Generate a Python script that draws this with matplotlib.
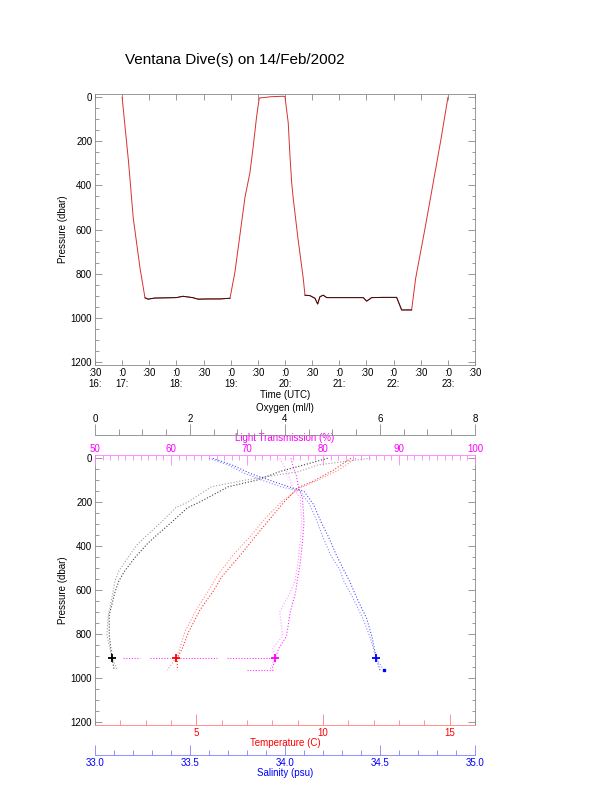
import matplotlib
matplotlib.use("Agg")
import matplotlib.pyplot as plt
from matplotlib.ticker import MultipleLocator, NullLocator
import numpy as np

plt.rcParams["font.family"] = ["Liberation Sans", "DejaVu Sans"]

# top panel: pressure record against time (decimal hours, UTC)
dive_time = [17.0, 17.117, 17.205, 17.329, 17.421, 17.48, 17.6, 17.8, 18.0, 18.12,
             18.3, 18.4, 18.6, 18.8, 18.987, 19.079, 19.263, 19.355, 19.416, 19.478,
             19.526, 19.75, 19.968, 20.0, 20.06, 20.092, 20.123, 20.153, 20.24, 20.337,
             20.368, 20.46, 20.552, 20.602, 20.644, 20.705, 20.768, 21.0, 21.442, 21.504,
             21.597, 21.8, 22.057, 22.149, 22.333, 22.407, 22.578, 22.726, 22.873, 23.002]
dive_pres = [0, 290, 548, 774, 910, 916, 911, 910, 909, 903,
             909, 916, 915, 915, 912, 792, 454, 341, 221, 86,
             3, -3, -5, -3, 116, 266, 386, 461, 642, 822,
             898, 900, 912, 938, 905, 898, 909, 909, 909, 925,
             909, 908, 908, 965, 965, 822, 597, 394, 191, 0]

time_ticks = [16.5, 17.0, 17.5, 18.0, 18.5, 19.0, 19.5, 20.0, 20.5, 21.0, 21.5, 22.0, 22.5, 23.0, 23.5]
time_labels = [":30\n16:", ":0\n17:", ":30", ":0\n18:", ":30", ":0\n19:", ":30", ":0\n20:",
               ":30", ":0\n21:", ":30", ":0\n22:", ":30", ":0\n23:", ":30"]

# bottom panel: profiles, two casts each
oxy_p = [0, 30, 60, 100, 130, 200, 225, 290, 350, 390, 450, 515, 560, 610, 715, 805, 910, 960]
oxy_a = [5.8, 4.7, 4.3, 3.15, 2.45, 1.95, 1.7, 1.4, 1.1, 0.9, 0.7, 0.5, 0.42, 0.38, 0.28, 0.25, 0.36, 0.46]
oxy_b = [4.9, 4.4, 3.9, 3.4, 2.8, 2.2, 1.95, 1.62, 1.3, 1.1, 0.85, 0.62, 0.5, 0.42, 0.3, 0.3, 0.36, 0.4]

temp_p = [0, 55, 105, 135, 195, 270, 360, 440, 540, 600, 690, 790, 865, 910, 965]
temp_a = [11.3, 10.6, 9.7, 9.1, 8.4, 7.75, 7.1, 6.45, 5.8, 5.5, 5.0, 4.55, 4.35, 4.2, 3.85]
temp_b = [11.1, 10.4, 9.6, 9.0, 8.5, 7.95, 7.3, 6.75, 6.0, 5.7, 5.15, 4.7, 4.45, 4.25, 4.25]

light_p = [0, 30, 80, 135, 180, 290, 380, 480, 560, 610, 700, 810, 865, 910, 965]
light_a = [74.3, 74.8, 75.5, 76.0, 77.0, 77.2, 77.0, 76.7, 76.3, 75.7, 74.3, 74.7, 73.4, 73.7, 73.0]
light_b = [75.8, 76.0, 76.5, 76.8, 77.3, 77.5, 77.3, 77.0, 76.6, 76.4, 75.7, 75.2, 74.2, 73.7, 73.3]
# stretches of near-bottom readings (start, end) at 909 and 965 dbar
light_bottom = [(53.7, 55.9), (57.2, 59.9), (61.2, 66.0), (67.4, 74.0)]
light_bottom2 = [(70.0, 73.4)]

sal_p = [0, 30, 70, 100, 130, 150, 210, 290, 360, 440, 510, 560, 640, 730, 820, 910, 965]
sal_a = [33.6, 33.7, 33.79, 33.88, 33.98, 34.08, 34.13, 34.17, 34.2, 34.24, 34.29, 34.31,
         34.36, 34.41, 34.45, 34.48, 34.52]
sal_b = [33.62, 33.72, 33.82, 33.92, 34.02, 34.1, 34.15, 34.19, 34.23, 34.27, 34.31, 34.34,
         34.38, 34.43, 34.46, 34.48, 34.5]

bottom_p = 909
oxy_bot, temp_bot, light_bot, sal_bot = 0.36, 4.2, 73.7, 34.48

GRAY = "#888888"
fs = 7
PX = 0.72  # pixels -> points at 100 dpi

fig = plt.figure(figsize=(6.12, 7.85), dpi=100)
fig.text(0.384, 0.9236, "Ventana Dive(s) on 14/Feb/2002", ha="center", va="center", fontsize=11)

# ---- top panel
ax1 = fig.add_axes([0.1552, 0.535, 0.6209, 0.3452])
ax1.plot(dive_time, dive_pres, color="#d83030", lw=0.7)
pres = np.array(dive_pres, dtype=float)
ax1.plot(dive_time, np.where(pres > 880, pres, np.nan), color="#301010", lw=0.7)
ax1.set_xlim(16.5, 23.5)
ax1.set_ylim(1215, -15)
ax1.set_xticks(time_ticks)
ax1.set_xticklabels(time_labels, linespacing=1.1)
ax1.xaxis.set_minor_locator(NullLocator())
ax1.set_yticks(range(0, 1201, 200))
ax1.yaxis.set_minor_locator(MultipleLocator(50))
ax1.tick_params(which="both", direction="in", top=True, right=True, colors=GRAY,
                labelcolor="black", labelsize=fs, width=0.6)
ax1.tick_params(axis="y", which="major", length=7 * PX, pad=2)
ax1.tick_params(axis="y", which="minor", length=3.5 * PX)
ax1.tick_params(axis="x", length=5.5 * PX, pad=2.5)
for s in ax1.spines.values():
    s.set_color(GRAY)
    s.set_linewidth(0.6)
ax1.set_xlabel("Time (UTC)", fontsize=fs, labelpad=0.5)
ax1.set_ylabel("Pressure (dbar)", fontsize=fs, labelpad=2)

# ---- bottom panel
ax2 = fig.add_axes([0.1552, 0.0764, 0.6209, 0.344])
ax_l = ax2.twiny()
ax_o = ax2.twiny()
ax_s = ax2.twiny()

# temperature on the main axes
ax2.plot(temp_a, temp_p, color="#ff7070", lw=0.8, ls=":", alpha=0.8)
ax2.plot(temp_b, temp_p, color="#ff0000", lw=0.8, ls=":", alpha=0.8)
ax2.plot([temp_bot], [bottom_p], marker="+", color="red", ms=6, mew=1.3)
ax2.set_xlim(1, 16)
ax2.set_xticks([5, 10, 15])
ax2.xaxis.set_minor_locator(MultipleLocator(1))
ax2.set_ylim(1215, -15)
ax2.set_yticks(range(0, 1201, 200))
ax2.yaxis.set_minor_locator(MultipleLocator(50))
ax2.tick_params(which="both", direction="in", right=True, top=False, colors=GRAY,
                labelcolor="black", labelsize=fs, width=0.6)
ax2.tick_params(axis="y", which="major", length=7 * PX, pad=2)
ax2.tick_params(axis="y", which="minor", length=3.5 * PX)
ax2.tick_params(axis="x", which="both", colors="#ff8080", labelcolor="red", pad=2)
ax2.tick_params(axis="x", which="major", length=11 * PX)
ax2.tick_params(axis="x", which="minor", length=5 * PX)
for k, s in ax2.spines.items():
    s.set_color(GRAY)
    s.set_linewidth(0.6)
ax2.spines["bottom"].set_color("#ff8080")
ax2.spines["top"].set_visible(False)
ax2.set_xlabel("Temperature (C)", fontsize=fs, color="red", labelpad=0.5)
ax2.set_ylabel("Pressure (dbar)", fontsize=fs, labelpad=2)

# light transmission, top spine
ax_l.plot(light_a, light_p, color="#ff90ff", lw=0.8, ls=":", alpha=0.9)
ax_l.plot(light_b, light_p, color="#ff00ff", lw=0.8, ls=":", alpha=0.8)
for lo, hi in light_bottom:
    ax_l.plot([lo, hi], [bottom_p, bottom_p], color="#ff00ff", lw=0.8, ls=(0, (1, 1.5)), alpha=0.8)
for lo, hi in light_bottom2:
    ax_l.plot([lo, hi], [965, 965], color="#ff00ff", lw=0.8, ls=(0, (1, 1.5)), alpha=0.8)
ax_l.plot([light_bot], [bottom_p], marker="+", color="#ff00ff", ms=6, mew=1.3)
ax_l.set_xlim(50, 100)
ax_l.set_xticks(range(50, 101, 10))
ax_l.xaxis.set_minor_locator(MultipleLocator(1))
ax_l.tick_params(axis="x", which="both", direction="in", colors="#ff80ff",
                 labelcolor="#ff00ff", labelsize=fs, width=0.6, pad=1)
ax_l.tick_params(axis="x", which="major", length=10 * PX)
ax_l.tick_params(axis="x", which="minor", length=5 * PX)
for k, s in ax_l.spines.items():
    s.set_visible(k == "top")
ax_l.spines["top"].set_color("#ff80ff")
ax_l.spines["top"].set_linewidth(0.6)
ax_l.set_xlabel("Light Transmission (%)", fontsize=fs, color="#ff00ff", labelpad=2)

# oxygen, detached axis above
ax_o.plot(oxy_a, oxy_p, color="#a0a0a0", lw=0.8, ls=":")
ax_o.plot(oxy_b, oxy_p, color="#404040", lw=0.8, ls=":")
ax_o.plot([oxy_bot], [bottom_p], marker="+", color="black", ms=6, mew=1.3)
ax_o.set_xlim(0, 8)
ax_o.set_xticks(range(0, 9, 2))
ax_o.xaxis.set_minor_locator(MultipleLocator(0.5))
ax_o.spines["top"].set_position(("axes", 1.074))
for k, s in ax_o.spines.items():
    s.set_visible(k == "top")
ax_o.spines["top"].set_color(GRAY)
ax_o.spines["top"].set_linewidth(0.6)
ax_o.tick_params(axis="x", which="both", direction="out", colors=GRAY,
                 labelcolor="black", labelsize=fs, width=0.6, pad=0)
ax_o.tick_params(axis="x", which="major", length=11.5 * PX)
ax_o.tick_params(axis="x", which="minor", length=6 * PX)
ax_o.set_xlabel("Oxygen (ml/l)", fontsize=fs, labelpad=1.5)

# salinity, detached axis below
ax_s.plot(sal_a, sal_p, color="#8080ff", lw=0.8, ls=":", alpha=0.9)
ax_s.plot(sal_b, sal_p, color="#0000ff", lw=0.8, ls=":", alpha=0.7)
ax_s.plot([sal_bot], [bottom_p], marker="+", color="blue", ms=6, mew=1.3)
ax_s.plot([34.52], [965], marker="s", ms=1.5, color="blue")
ax_s.set_xlim(33.0, 35.0)
ax_s.set_xticks([33.0, 33.5, 34.0, 34.5, 35.0])
ax_s.set_xticklabels(["33.0", "33.5", "34.0", "34.5", "35.0"])
ax_s.xaxis.set_minor_locator(MultipleLocator(0.1))
ax_s.xaxis.set_ticks_position("bottom")
ax_s.xaxis.set_label_position("bottom")
ax_s.spines["bottom"].set_position(("axes", -0.111))
for k, s in ax_s.spines.items():
    s.set_visible(k == "bottom")
ax_s.spines["bottom"].set_color("#8080ff")
ax_s.spines["bottom"].set_linewidth(0.6)
ax_s.tick_params(axis="x", which="both", direction="in", colors="#8080ff",
                 labelcolor="blue", labelsize=fs, width=0.6, pad=2)
ax_s.tick_params(axis="x", which="major", length=10.5 * PX)
ax_s.tick_params(axis="x", which="minor", length=5 * PX)
ax_s.set_xlabel("Salinity (psu)", fontsize=fs, color="blue", labelpad=0.5)

ax2.set_ylim(1215, -15)

fig.savefig("out.png", dpi=100)
